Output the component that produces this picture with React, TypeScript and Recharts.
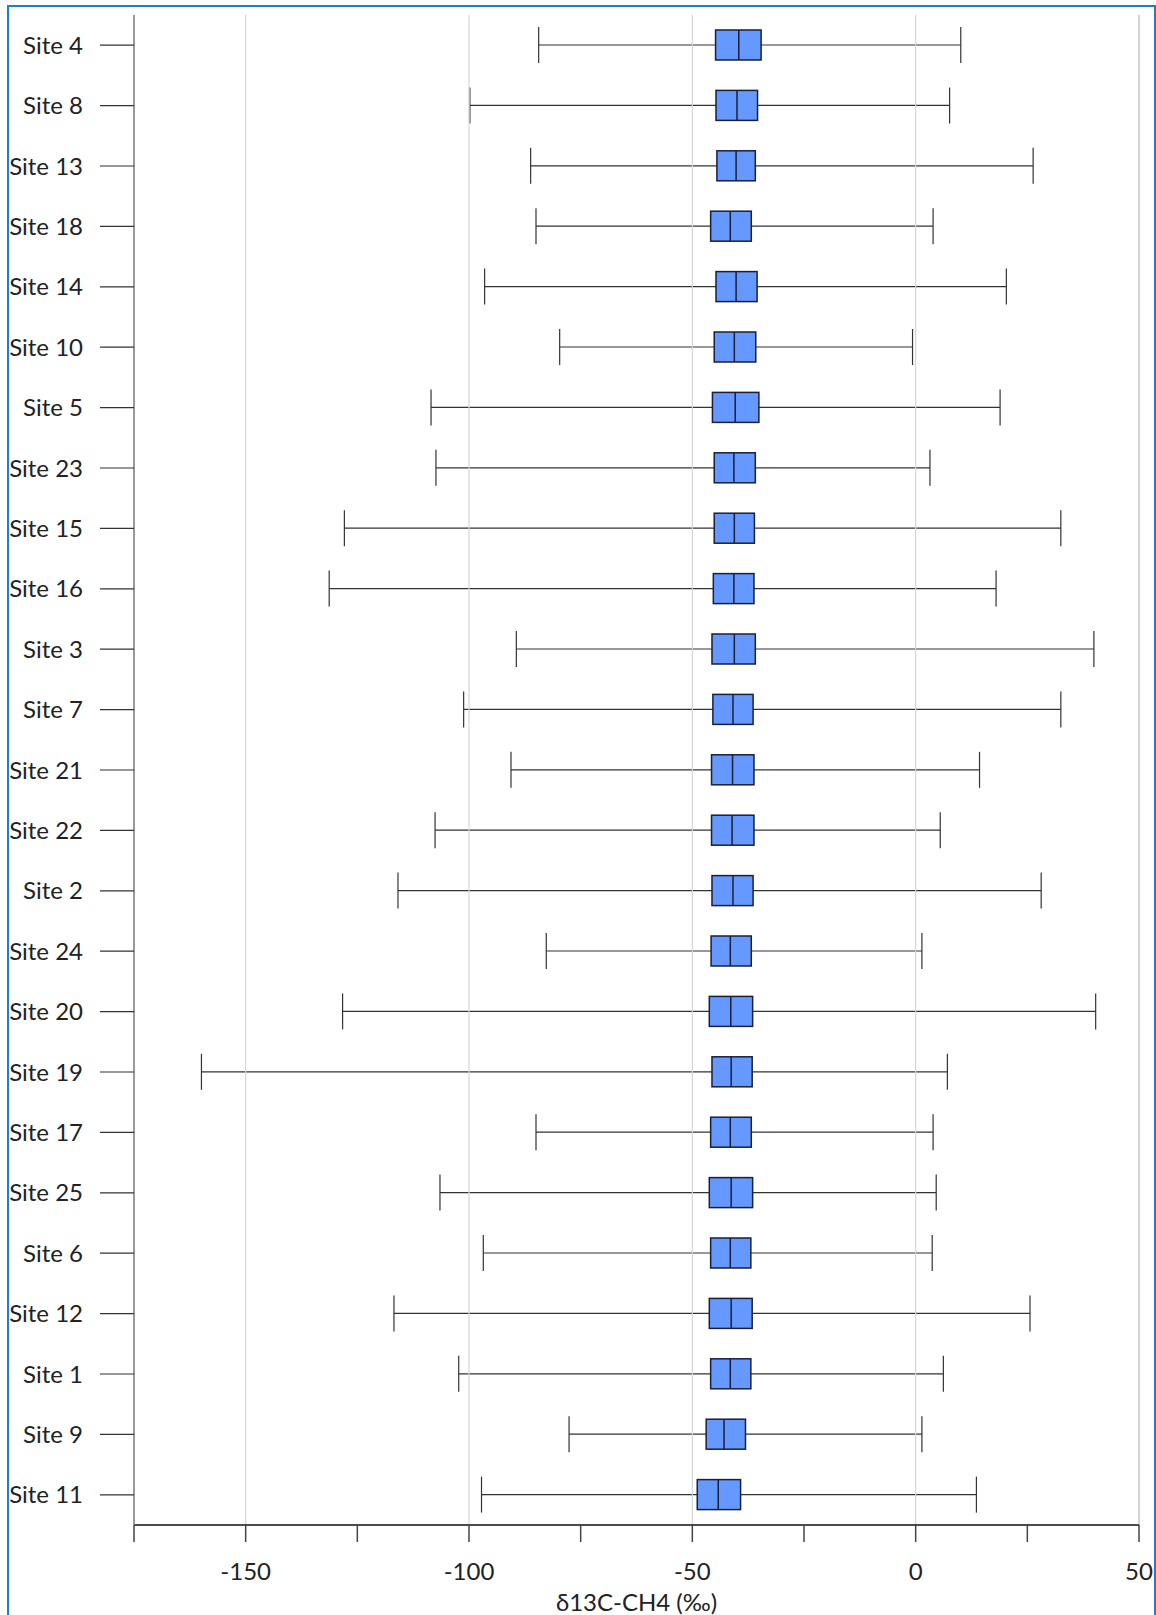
import React from 'react';
import { ComposedChart, Bar, XAxis, YAxis, ReferenceLine } from 'recharts';

const sites = [
  'Site 4', 'Site 8', 'Site 13', 'Site 18', 'Site 14', 'Site 10', 'Site 5', 'Site 23', 'Site 15',
  'Site 16', 'Site 3', 'Site 7', 'Site 21', 'Site 22', 'Site 2', 'Site 24', 'Site 20', 'Site 19',
  'Site 17', 'Site 25', 'Site 6', 'Site 12', 'Site 1', 'Site 9', 'Site 11',
];

const whiskerLow = [
  -84.4, -99.8, -86.2, -85.0, -96.5, -79.7, -108.5, -107.4, -127.9, -131.3, -89.4, -101.2, -90.6,
  -107.6, -115.9, -82.7, -128.3, -159.9, -85.0, -106.5, -96.8, -116.8, -102.3, -77.6, -97.2,
];
const q1 = [
  -44.8, -44.7, -44.5, -45.9, -44.7, -45.1, -45.5, -45.1, -45.1, -45.3, -45.6, -45.4, -45.7,
  -45.7, -45.6, -45.8, -46.2, -45.6, -45.9, -46.2, -45.9, -46.2, -45.9, -46.9, -48.9,
];
const median = [
  -39.6, -40.0, -40.2, -41.5, -40.2, -40.6, -40.4, -40.7, -40.6, -40.7, -40.6, -40.9, -41.0,
  -41.1, -40.9, -41.5, -41.4, -41.3, -41.5, -41.3, -41.5, -41.3, -41.5, -42.9, -44.2,
];
const q3 = [
  -34.6, -35.4, -35.9, -36.8, -35.5, -35.8, -35.1, -35.9, -36.1, -36.2, -35.9, -36.4, -36.2,
  -36.2, -36.4, -36.8, -36.5, -36.6, -36.8, -36.5, -36.9, -36.6, -36.9, -38.1, -39.2,
];
const whiskerHigh = [
  10.1, 7.6, 26.3, 3.9, 20.3, -0.7, 18.9, 3.2, 32.5, 18.0, 39.9, 32.5, 14.3,
  5.5, 28.1, 1.4, 40.3, 7.1, 3.9, 4.6, 3.7, 25.6, 6.2, 1.4, 13.6,
];

const xTicks = [-175, -150, -125, -100, -75, -50, -25, 0, 25, 50];
const xLabels = [-150, -100, -50, 0, 50];
const gridLines = [-150, -100, -50, 0];

const data = sites.map((site, i) => ({
  site,
  min: whiskerLow[i],
  q1: q1[i],
  median: median[i],
  q3: q3[i],
  max: whiskerHigh[i],
}));

const FONT = 'Lato, "Open Sans", sans-serif';
const BOX_H = 30;

function BoxShape(props: any) {
  const { x, y, width, height, payload } = props;
  if (width == null || payload == null) return null;
  const left = Math.min(x, x + width);
  const w = Math.abs(width);
  const span = payload.max - payload.min;
  const px = (v: number) => left + ((v - payload.min) / span) * w;
  const cy = y + height / 2;
  const xMin = px(payload.min);
  const xMax = px(payload.max);
  const xQ1 = px(payload.q1);
  const xQ3 = px(payload.q3);
  const xMed = px(payload.median);
  return (
    <g>
      <line x1={xMin} y1={cy} x2={xMax} y2={cy} stroke="#333" strokeWidth={1.2} />
      <line x1={xMin} y1={y} x2={xMin} y2={y + height} stroke="#333" strokeWidth={1.2} />
      <line x1={xMax} y1={y} x2={xMax} y2={y + height} stroke="#333" strokeWidth={1.2} />
      <rect
        x={xQ1}
        y={cy - BOX_H / 2}
        width={xQ3 - xQ1}
        height={BOX_H}
        fill="#6699ff"
        stroke="#1a1f3a"
        strokeWidth={1.5}
      />
      <line x1={xMed} y1={cy - BOX_H / 2} x2={xMed} y2={cy + BOX_H / 2} stroke="#1a1f3a" strokeWidth={1.5} />
    </g>
  );
}

export default function App() {
  return (
    <div style={{ position: 'absolute', left: 0, top: 0, width: 1156, height: 1615, background: '#fff' }}>
      <div style={{ position: 'absolute', left: 0, top: 0 }}>
        <ComposedChart
          width={1156}
          height={1615}
          data={data}
          layout="vertical"
          margin={{ top: 15, right: 17, bottom: 0, left: 8 }}
        >
          {gridLines.map((g) => (
            <ReferenceLine key={g} x={g} stroke="#d6d6d6" strokeWidth={1.2} />
          ))}
          <ReferenceLine x={50} stroke="#c4c4c4" strokeWidth={1.5} />
          <XAxis
            xAxisId="top"
            orientation="top"
            type="number"
            domain={[-175, 50]}
            ticks={xTicks}
            tick={false}
            tickLine={false}
            height={0}
            axisLine={{ stroke: '#888', strokeWidth: 1.5 }}
          />
          <XAxis
            type="number"
            domain={[-175, 50]}
            ticks={xTicks}
            interval={0}
            allowDataOverflow
            tickFormatter={(v: number) => (xLabels.includes(v) ? String(v) : '')}
            tickSize={17}
            tickMargin={21}
            height={90}
            axisLine={{ stroke: '#111', strokeWidth: 1.5 }}
            tickLine={{ stroke: '#444', strokeWidth: 1.5 }}
            tick={{ fill: '#222', fontSize: 24, fontFamily: FONT }}
            label={{
              value: 'δ13C-CH4 (‰)',
              position: 'insideBottom',
              offset: 4,
              fill: '#222',
              fontSize: 24,
              fontFamily: FONT,
            }}
          />
          <YAxis
            type="category"
            dataKey="site"
            width={126}
            interval={0}
            tickSize={34}
            tickMargin={17}
            axisLine={{ stroke: '#777', strokeWidth: 1.5 }}
            tickLine={{ stroke: '#333', strokeWidth: 1.2 }}
            tick={{ fill: '#222', fontSize: 24, fontFamily: FONT }}
          />
          <Bar
            dataKey={(d: any) => [d.min, d.max]}
            barSize={36}
            shape={<BoxShape />}
            isAnimationActive={false}
          />
        </ComposedChart>
      </div>
      <div
        style={{
          position: 'absolute',
          left: 7,
          top: 5,
          width: 1145,
          height: 1610,
          borderTop: '2px solid #1a7fd6',
          borderLeft: '2px solid #1a7fd6',
          borderRight: '2px solid #1a7fd6',
          pointerEvents: 'none',
        }}
      />
    </div>
  );
}
